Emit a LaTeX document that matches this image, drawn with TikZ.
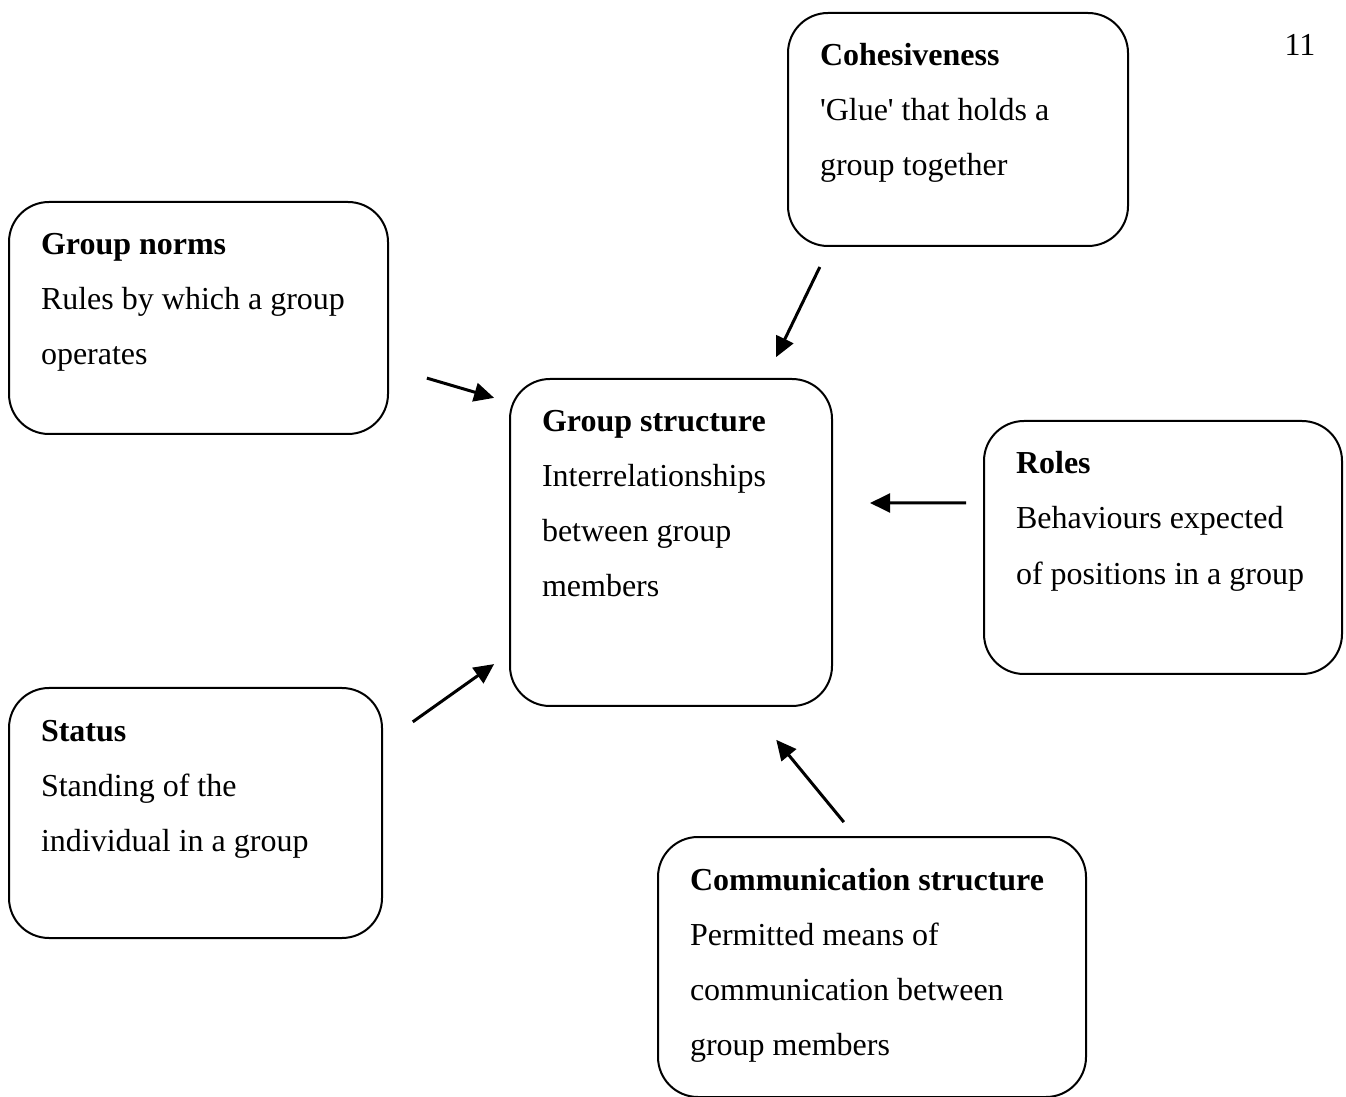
\documentclass[tikz,border=0pt]{standalone}
\usepackage{fontspec}
\setmainfont{Liberation Serif}
\usetikzlibrary{arrows.meta}

\newlength{\pxu}
\setlength{\pxu}{0.4pt}
% box text: width, height (px), title, body
\newcommand{\gtext}[4]{\parbox[t][\dimexpr#2\pxu\relax][t]{\dimexpr#1\pxu-25.6pt\relax}{\rule{0pt}{21.2pt}\textbf{#3}\\#4}}
\newcommand{\gbox}{\node[draw, line width=0.8pt, rounded corners=16pt, inner xsep=12.8pt, inner ysep=0pt, anchor=north west, align=left]}
\newcommand{\sq}{\textquotesingle}

\begin{document}
\begin{tikzpicture}[x=0.4pt, y=-0.4pt, font=\fontsize{12.8}{22}\selectfont,
        arr/.style={-{Triangle[length=8pt,width=7.5pt]}, line width=1.2pt}]
            \useasboundingbox (0,0) rectangle (1346,1097);

            \gbox (coh) at (787,12) {\gtext{340}{233}{Cohesiveness}{\sq Glue\sq{} that holds a\\group together}};
            \gbox (norms) at (8,201) {\gtext{379}{232}{Group norms}{Rules by which a group\\operates}};
            \gbox (gs) at (509,378) {\gtext{322}{327}{Group structure}{Interrelationships\\between group\\members}};
            \gbox (roles) at (983,420) {\gtext{358}{253}{Roles}{Behaviours expected\\of positions in a group}};
            \gbox (status) at (8,687) {\gtext{373}{250}{Status}{Standing of the\\individual in a group}};
            \gbox (comm) at (657,836) {\gtext{428}{260}{Communication structure}{Permitted means of\\communication between\\group members}};

            \node (page) at (1300,45) {11};

            \draw[arr, shorten <=8.9pt, shorten >=9.3pt]
                ([xshift=17pt]coh.south west) -- ([xshift=102.8pt]gs.north west);
            \draw[arr, shorten <=15.8pt, shorten >=6.2pt]
                ([yshift=-66.4pt]norms.north east) -- ([yshift=-9.7pt]gs.north west);
            \draw[arr, shorten <=6.8pt, shorten >=14.8pt]
                ([yshift=-33.2pt]roles.north west) -- ([yshift=-50pt]gs.north east);
            \draw[arr, shorten <=14.6pt, shorten >=7.3pt]
                ([yshift=-22.4pt]status.north east) -- ([yshift=-110.2pt]gs.north west);
            \draw[arr, shorten <=7.2pt, shorten >=17pt]
                ([xshift=79.3pt]comm.north west) -- ([xshift=96.1pt]gs.south west);

\end{tikzpicture}
\end{document}
